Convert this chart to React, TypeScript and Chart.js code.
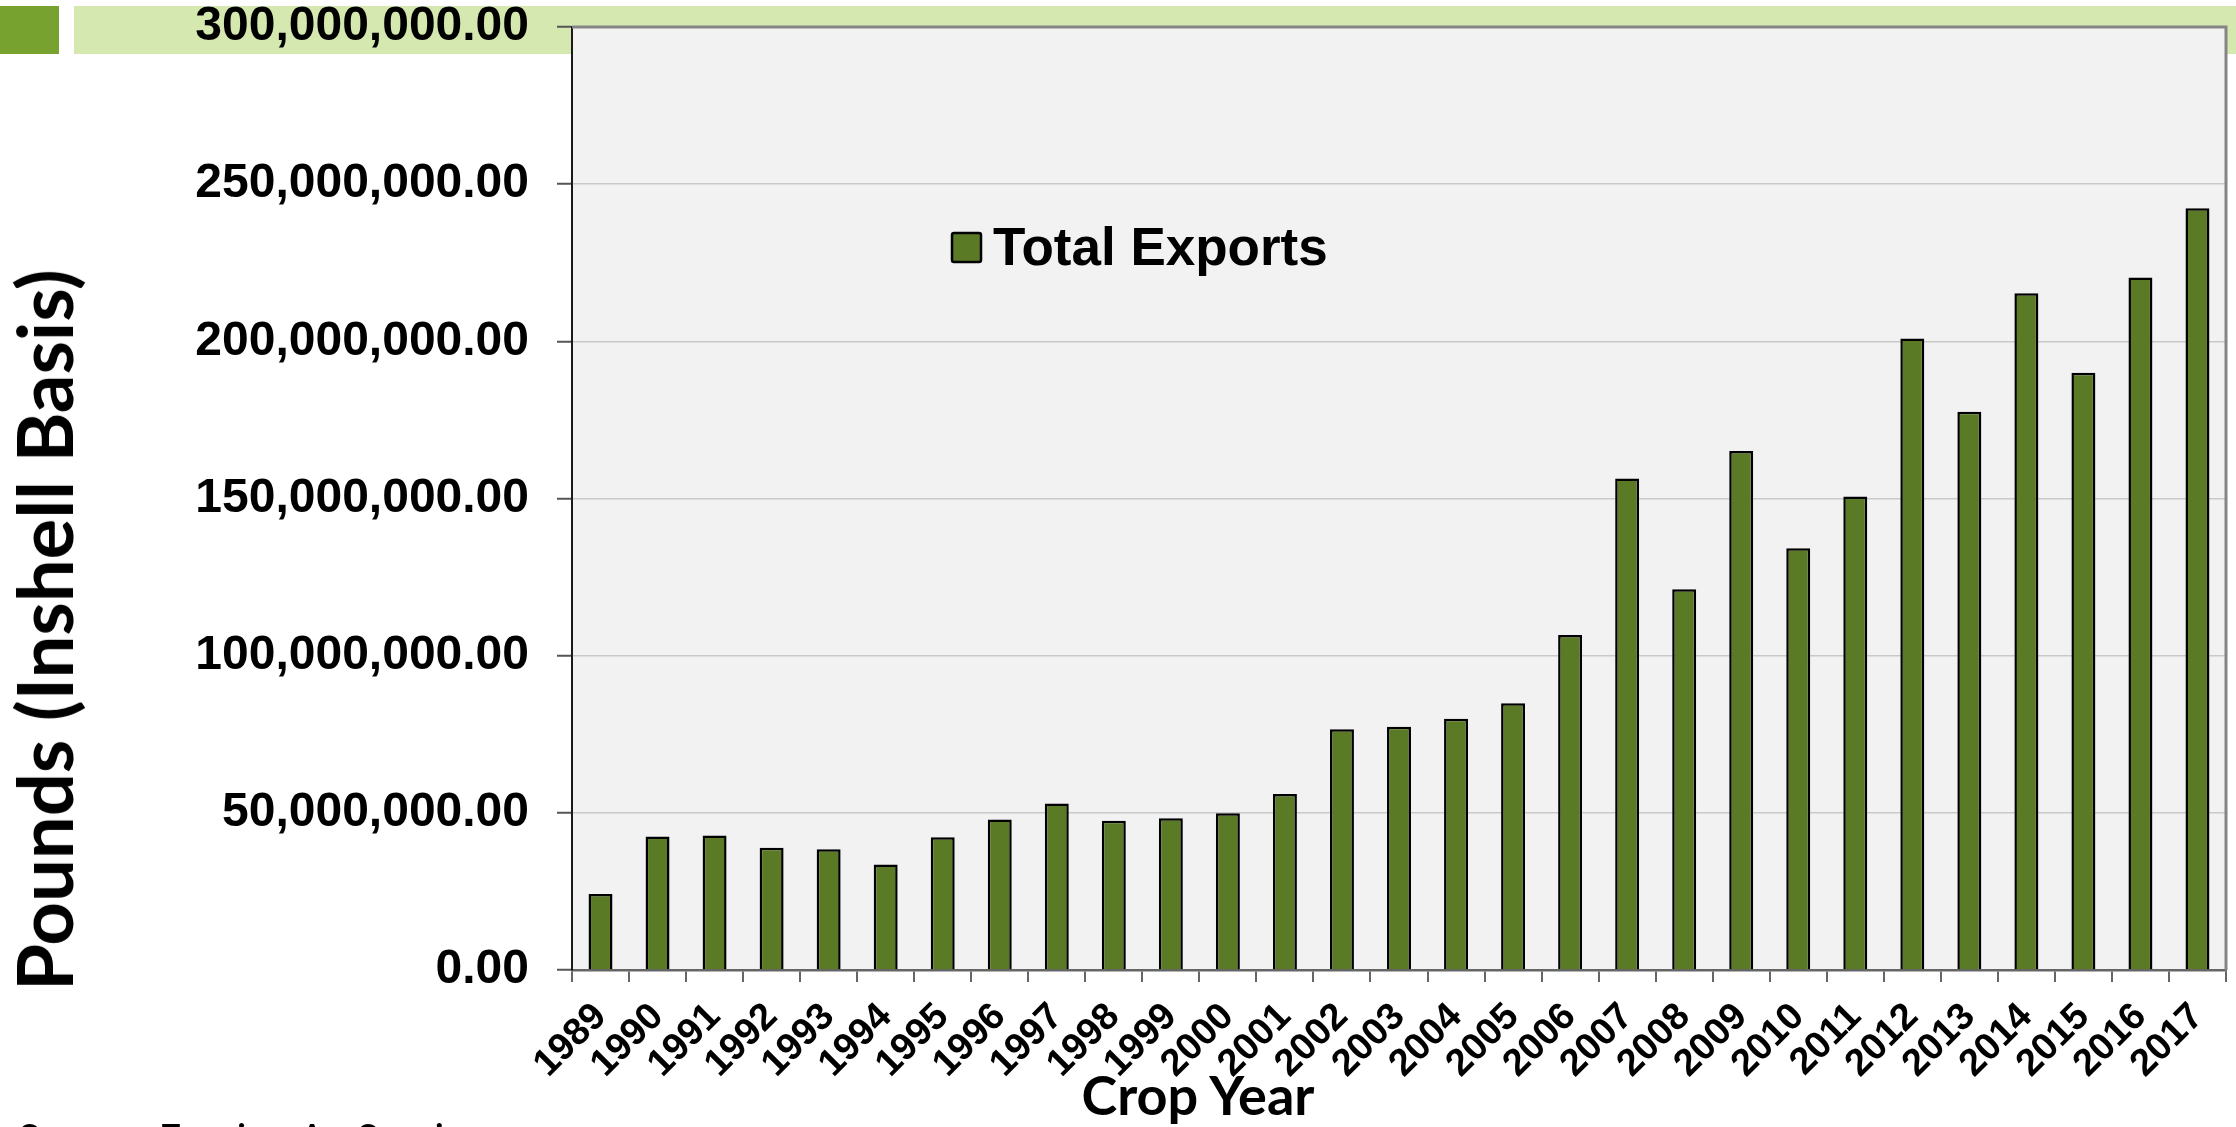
import React, { useEffect, useRef } from "react";
import { Chart, registerables } from "chart.js";

Chart.register(...registerables);

// ---- data ----
const categories = [
  "1989", "1990", "1991", "1992", "1993", "1994", "1995", "1996", "1997", "1998",
  "1999", "2000", "2001", "2002", "2003", "2004", "2005", "2006", "2007", "2008",
  "2009", "2010", "2011", "2012", "2013", "2014", "2015", "2016", "2017",
];
const totalExports = [
  24.2e6, 42.5e6, 42.8e6, 38.9e6, 38.4e6, 33.6e6, 42.2e6, 47.9e6, 53.0e6, 47.5e6,
  48.3e6, 49.9e6, 56.0e6, 76.6e6, 77.4e6, 79.9e6, 84.9e6, 106.6e6, 156.4e6, 121.1e6,
  165.1e6, 134.2e6, 150.6e6, 200.9e6, 177.6e6, 215.3e6, 190.0e6, 220.3e6, 242.3e6,
];
const yTickValues = [0, 50e6, 100e6, 150e6, 200e6, 250e6, 300e6];
const seriesLabel = "Total Exports";
const xTitle = "Crop Year";
const yTitle = "Pounds (Inshell Basis)";
const sourceNote = "Source: Foreign Ag Service";

const W = 2236;
const H = 1127;
const PLOT_LEFT = 572;
const PLOT_BOTTOM = 970;

const frameAndLegend = {
  id: "frameAndLegend",
  beforeDraw(chart: any) {
    const { ctx, chartArea } = chart;
    ctx.save();
    ctx.fillStyle = "#f2f2f2";
    ctx.fillRect(chartArea.left, chartArea.top, chartArea.right - chartArea.left, chartArea.bottom - chartArea.top);
    ctx.restore();
  },
  afterDraw(chart: any) {
    const { ctx, chartArea } = chart;
    ctx.save();
    ctx.strokeStyle = "#858585";
    ctx.lineWidth = 3;
    ctx.beginPath();
    ctx.moveTo(chartArea.left, chartArea.top);
    ctx.lineTo(chartArea.right, chartArea.top);
    ctx.lineTo(chartArea.right, chartArea.bottom);
    ctx.stroke();

    // legend item
    const ds = chart.data.datasets[0];
    const bx = 952, by = 233, bs = 29;
    ctx.fillStyle = ds.backgroundColor;
    ctx.strokeStyle = "#000";
    ctx.lineWidth = 2.5;
    ctx.beginPath();
    if (ctx.roundRect) ctx.roundRect(bx, by, bs, bs, 2);
    else ctx.rect(bx, by, bs, bs);
    ctx.fill();
    ctx.stroke();
    ctx.fillStyle = "#000";
    ctx.font = "bold 53px 'Liberation Sans', Arial, sans-serif";
    ctx.textBaseline = "alphabetic";
    ctx.textAlign = "left";
    ctx.fillText(ds.label, 993, 265);
    ctx.restore();
  },
};

function fmt(v: number) {
  return v.toLocaleString("en-US", { minimumFractionDigits: 2, maximumFractionDigits: 2 });
}

export default function App() {
  const canvasRef = useRef<HTMLCanvasElement | null>(null);

  useEffect(() => {
    const canvas = canvasRef.current;
    if (!canvas) return;
    const chart = new Chart(canvas, {
      type: "bar",
      data: {
        labels: categories,
        datasets: [
          {
            label: seriesLabel,
            data: totalExports,
            backgroundColor: "#5a7a25",
            borderColor: "#000000",
            borderWidth: 2.5,
            barPercentage: 0.42,
            categoryPercentage: 1.0,
          },
        ],
      },
      options: {
        animation: false,
        responsive: false,
        devicePixelRatio: 1,
        layout: { padding: { left: 0, right: 10, top: 27, bottom: 0 } },
        plugins: {
          legend: { display: false },
          tooltip: { enabled: false },
          title: { display: false },
        },
        scales: {
          x: {
            type: "category",
            afterFit: (scale: any) => {
              scale.height = H - PLOT_BOTTOM;
              scale.paddingLeft = 0;
              scale.paddingRight = 0;
            },
            grid: {
              display: true,
              offset: true,
              drawOnChartArea: false,
              drawTicks: true,
              tickLength: 12,
              tickColor: "#666666",
              tickWidth: 2,
              lineWidth: 2,
            },
            border: { display: true, color: "#666666", width: 2.5 },
            ticks: {
              autoSkip: false,
              minRotation: 45,
              maxRotation: 45,
              padding: 16,
              color: "#000000",
              font: { family: "'Liberation Sans', Arial, sans-serif", size: 38, weight: "bold", lineHeight: 0.95 },
            },
          },
          y: {
            min: 0,
            max: 300e6,
            afterFit: (scale: any) => {
              scale.width = PLOT_LEFT;
              scale.paddingTop = 0;
              scale.paddingBottom = 0;
            },
            afterBuildTicks: (scale: any) => {
              scale.ticks = yTickValues.map((v) => ({ value: v }));
            },
            grid: {
              color: (c: any) => (c.tick && c.tick.value === 0 ? "#666666" : "#c9c9c9"),
              lineWidth: 1.5,
              drawTicks: true,
              tickLength: 15,
              tickColor: "#555555",
              tickWidth: 2,
            },
            border: { display: true, color: "#1a1a1a", width: 2 },
            ticks: {
              padding: 28,
              color: "#000000",
              font: { family: "'Liberation Sans', Arial, sans-serif", size: 48, weight: "bold", lineHeight: 1 },
              callback: (v: any) => fmt(Number(v)),
            },
          },
        },
      },
      plugins: [frameAndLegend],
    });
    return () => chart.destroy();
  }, []);

  return (
    <div
      style={{
        position: "fixed",
        left: 0,
        top: 0,
        width: W,
        height: H,
        overflow: "hidden",
        background: "#ffffff",
      }}
    >
      <div style={{ position: "absolute", left: 0, top: 6, width: 59, height: 48, background: "#77a22f" }} />
      <div style={{ position: "absolute", left: 74, top: 6, width: W - 74, height: 48, background: "#d4e8b0" }} />
      <canvas
        ref={canvasRef}
        width={W}
        height={H}
        style={{ position: "absolute", left: 0, top: 0, width: W, height: H, display: "block" }}
      />
      <div
        style={{
          position: "absolute",
          left: 44,
          top: 630,
          transform: "translate(-50%, -50%) rotate(-90deg)",
          whiteSpace: "nowrap",
          fontFamily: "Lato, sans-serif",
          fontWeight: 700,
          fontSize: 76,
          lineHeight: 1,
          color: "#000",
        }}
      >
        {yTitle}
      </div>
      <div
        style={{
          position: "absolute",
          left: 1198,
          top: 1068,
          transform: "translateX(-50%)",
          whiteSpace: "nowrap",
          fontFamily: "Lato, sans-serif",
          fontWeight: 700,
          fontSize: 54,
          lineHeight: 1,
          color: "#000",
        }}
      >
        {xTitle}
      </div>
      <div
        style={{
          position: "absolute",
          left: 18,
          top: 1118,
          whiteSpace: "nowrap",
          fontFamily: "Lato, sans-serif",
          fontWeight: 400,
          fontSize: 40,
          lineHeight: 1,
          color: "#000",
        }}
      >
        {sourceNote}
      </div>
    </div>
  );
}
